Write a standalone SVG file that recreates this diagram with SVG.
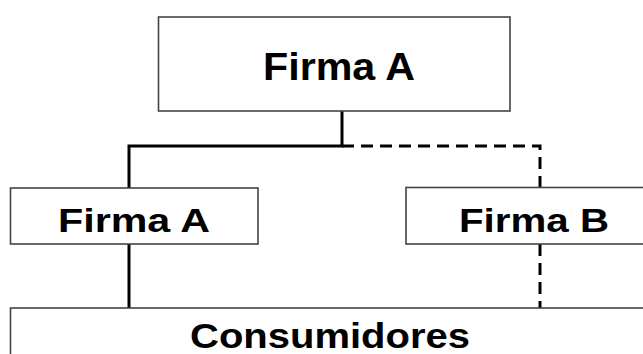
<svg xmlns="http://www.w3.org/2000/svg" width="643" height="354" viewBox="0 0 643 354">
<style>
.box{fill:#fff;stroke:#444;stroke-width:1.6}
.lbl{font-family:"Liberation Sans",Arial,sans-serif;font-weight:bold;fill:#000;text-anchor:middle}
.solid{fill:none;stroke:#000;stroke-width:3}
.dash{fill:none;stroke:#000;stroke-width:3;stroke-dasharray:12 7}
</style>
<rect width="643" height="354" fill="#fff"/>
<g id="connectors">
<path class="solid" d="M342 111 V146 H129 V188"/>
<path class="solid" d="M129 244 V308"/>
<path class="dash" d="M342 146 H540 V187"/>
<path class="dash" d="M540 244 V308" stroke-dasharray="9 7"/>
</g>
<g id="firma-a-top">
<rect class="box" x="158.5" y="17" width="351.5" height="94"/>
<text class="lbl" x="339" y="80" font-size="39.5" textLength="152" lengthAdjust="spacingAndGlyphs">Firma A</text>
</g>
<g id="firma-a">
<rect class="box" x="10.5" y="188" width="247.5" height="56"/>
<text class="lbl" x="134" y="231.7" font-size="33.5" textLength="152" lengthAdjust="spacingAndGlyphs">Firma A</text>
</g>
<g id="firma-b">
<rect class="box" x="406" y="187.5" width="250" height="56.5"/>
<text class="lbl" x="534" y="231.7" font-size="33.5" textLength="150" lengthAdjust="spacingAndGlyphs">Firma B</text>
</g>
<g id="consumidores">
<rect class="box" x="10.5" y="308" width="645" height="60"/>
<text class="lbl" x="330" y="348.3" font-size="35" textLength="280" lengthAdjust="spacingAndGlyphs">Consumidores</text>
</g>
</svg>
